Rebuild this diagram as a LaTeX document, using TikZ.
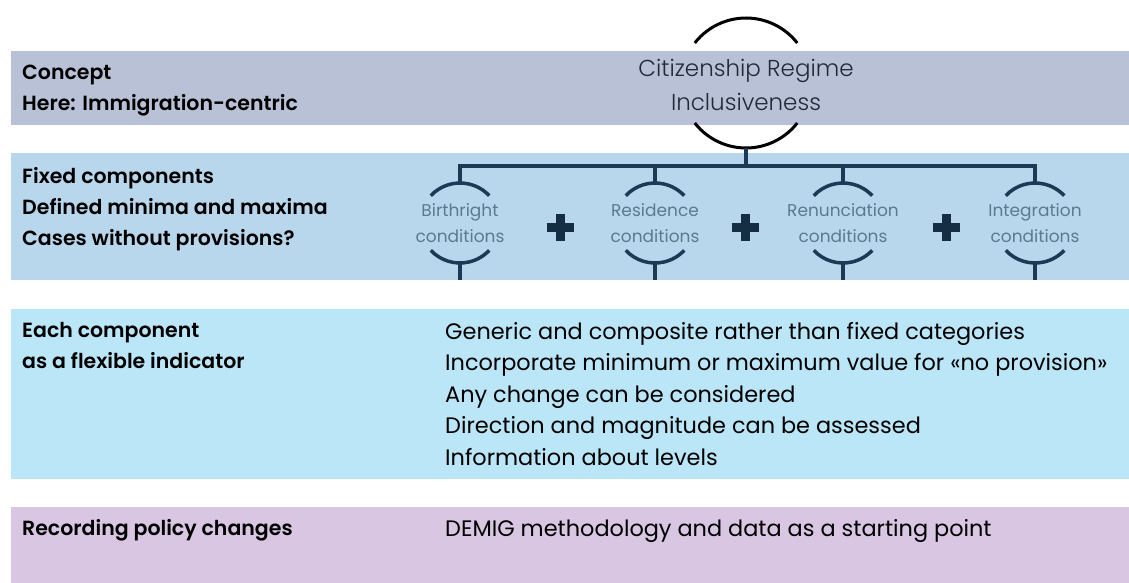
\documentclass[tikz,border=0pt]{standalone}
\usepackage{fontspec}
\setmainfont{Poppins}
\IfFontExistsTF{Poppins SemiBold}{\newfontfamily\headfont{Poppins SemiBold}}{\newcommand\headfont{\bfseries}}
\IfFontExistsTF{Poppins Light}{\newfontfamily\lightfont{Poppins Light}}{\newcommand\lightfont{}}
\usetikzlibrary{positioning}
\definecolor{conceptband}{HTML}{B8C1D5}
\definecolor{fixedband}{HTML}{B9D7EC}
\definecolor{flexband}{HTML}{BAE6F8}
\definecolor{recordband}{HTML}{D8C6E3}
\definecolor{treeline}{HTML}{1C3A55}
\definecolor{comptext}{HTML}{5A7A92}
\definecolor{titletext}{HTML}{1F2B3B}
\begin{document}
\begin{tikzpicture}[x=1pt, y=-1pt]
            \tikzset{lefttext/.style={anchor=north west, inner sep=0, align=left, text=black, font=\fontsize{20.5}{31}\selectfont\headfont}}
            \tikzset{righttext/.style={anchor=north west, inner sep=0, align=left, text=black, font=\fontsize{22.4}{31.5}\selectfont}}
            \tikzset{comp/.style={inner sep=0, align=center, text=comptext, font=\fontsize{17}{25.5}\selectfont}}
            \tikzset{ring/.style={circle, minimum size=#1, inner sep=0, outer sep=0}}
            \tikzset{tree/.style={draw=treeline, line width=3.5pt}}
            \tikzset{plussign/.style={minimum size=27pt, inner sep=0, outer sep=0}}
            \useasboundingbox (0, 0) rectangle (1129, 583);
            % bands
            \fill [conceptband] (11, 51) rectangle (1129, 125);
            \fill [fixedband] (11, 153) rectangle (1129, 280);
            \fill [flexband] (11, 309) rectangle (1129, 479);
            \fill [recordband] (11, 507) rectangle (1129, 583);
            % left column
            \node [lefttext] (concept) at (22, 65) {Concept\\Here: Immigration-centric};
            \node [lefttext] (fixed) at (22, 167) {Fixed components\\Defined minima and maxima\\Cases without provisions?};
            \node [lefttext] (flex) at (22, 322) {Each component\\as a flexible indicator};
            \node [lefttext] (record) at (22, 519) {Recording policy changes};
            % right column
            \node [righttext] (flexlist) at (445, 322) {Generic and composite rather than fixed categories\\Incorporate minimum or maximum value for «no provision»\\Any change can be considered\\Direction and magnitude can be assessed\\Information about levels};
            \node [righttext] (demig) at (445, 519) {DEMIG methodology and data as a starting point};
            % regime
            \node [inner sep=0, align=center, text=titletext, font=\fontsize{23}{34}\selectfont\lightfont] (regime) at (746, 85) {Citizenship Regime\\Inclusiveness};
            \node [ring=130pt] (regring) at (746, 83) {};
            \draw [black, line width=3pt] (regring.142) arc [start angle=142, end angle=38, radius=65pt];
            \draw [black, line width=3pt] (regring.218) arc [start angle=218, end angle=322, radius=65pt];
            % components
            \node [comp] (birth) at (460, 223) {Birthright\\conditions};
            \node [comp] (resid) at (655, 223) {Residence\\conditions};
            \node [comp] (renun) at (843, 223) {Renunciation\\conditions};
            \node [comp] (integ) at (1035, 223) {Integration\\conditions};
            \node [ring=80pt] (birthring) at (birth) {};
            \node [ring=80pt] (residring) at (resid) {};
            \node [ring=80pt] (renunring) at (renun) {};
            \node [ring=80pt] (integring) at (integ) {};
            \draw [tree] (birthring.137) arc [start angle=137, end angle=43, radius=40pt];
            \draw [tree] (birthring.223) arc [start angle=223, end angle=317, radius=40pt];
            \draw [tree] (residring.137) arc [start angle=137, end angle=43, radius=40pt];
            \draw [tree] (residring.223) arc [start angle=223, end angle=317, radius=40pt];
            \draw [tree] (renunring.137) arc [start angle=137, end angle=43, radius=40pt];
            \draw [tree] (renunring.223) arc [start angle=223, end angle=317, radius=40pt];
            \draw [tree] (integring.137) arc [start angle=137, end angle=43, radius=40pt];
            \draw [tree] (integring.223) arc [start angle=223, end angle=317, radius=40pt];
            % tree
            \coordinate (bar) at (0, 166);
            \coordinate (bandend) at (0, 280);
            \draw [tree] (regring.south) -- (regring.south |- bar);
            \draw [tree] (birthring.north) |- (integring.north |- bar) -- (integring.north);
            \draw [tree] (residring.north) -- (residring.north |- bar);
            \draw [tree] (renunring.north) -- (renunring.north |- bar);
            \draw [tree] (birthring.south) -- (birthring.south |- bandend);
            \draw [tree] (residring.south) -- (residring.south |- bandend);
            \draw [tree] (renunring.south) -- (renunring.south |- bandend);
            \draw [tree] (integring.south) -- (integring.south |- bandend);
            % plus signs
            \node [plussign] (plusa) at (560, 227) {};
            \node [plussign] (plusb) at (745, 227) {};
            \node [plussign] (plusc) at (946, 227) {};
            \draw [treeline!80!black, line width=9pt] (plusa.west) -- (plusa.east) (plusa.north) -- (plusa.south);
            \draw [treeline!80!black, line width=9pt] (plusb.west) -- (plusb.east) (plusb.north) -- (plusb.south);
            \draw [treeline!80!black, line width=9pt] (plusc.west) -- (plusc.east) (plusc.north) -- (plusc.south);
\end{tikzpicture}
\end{document}
